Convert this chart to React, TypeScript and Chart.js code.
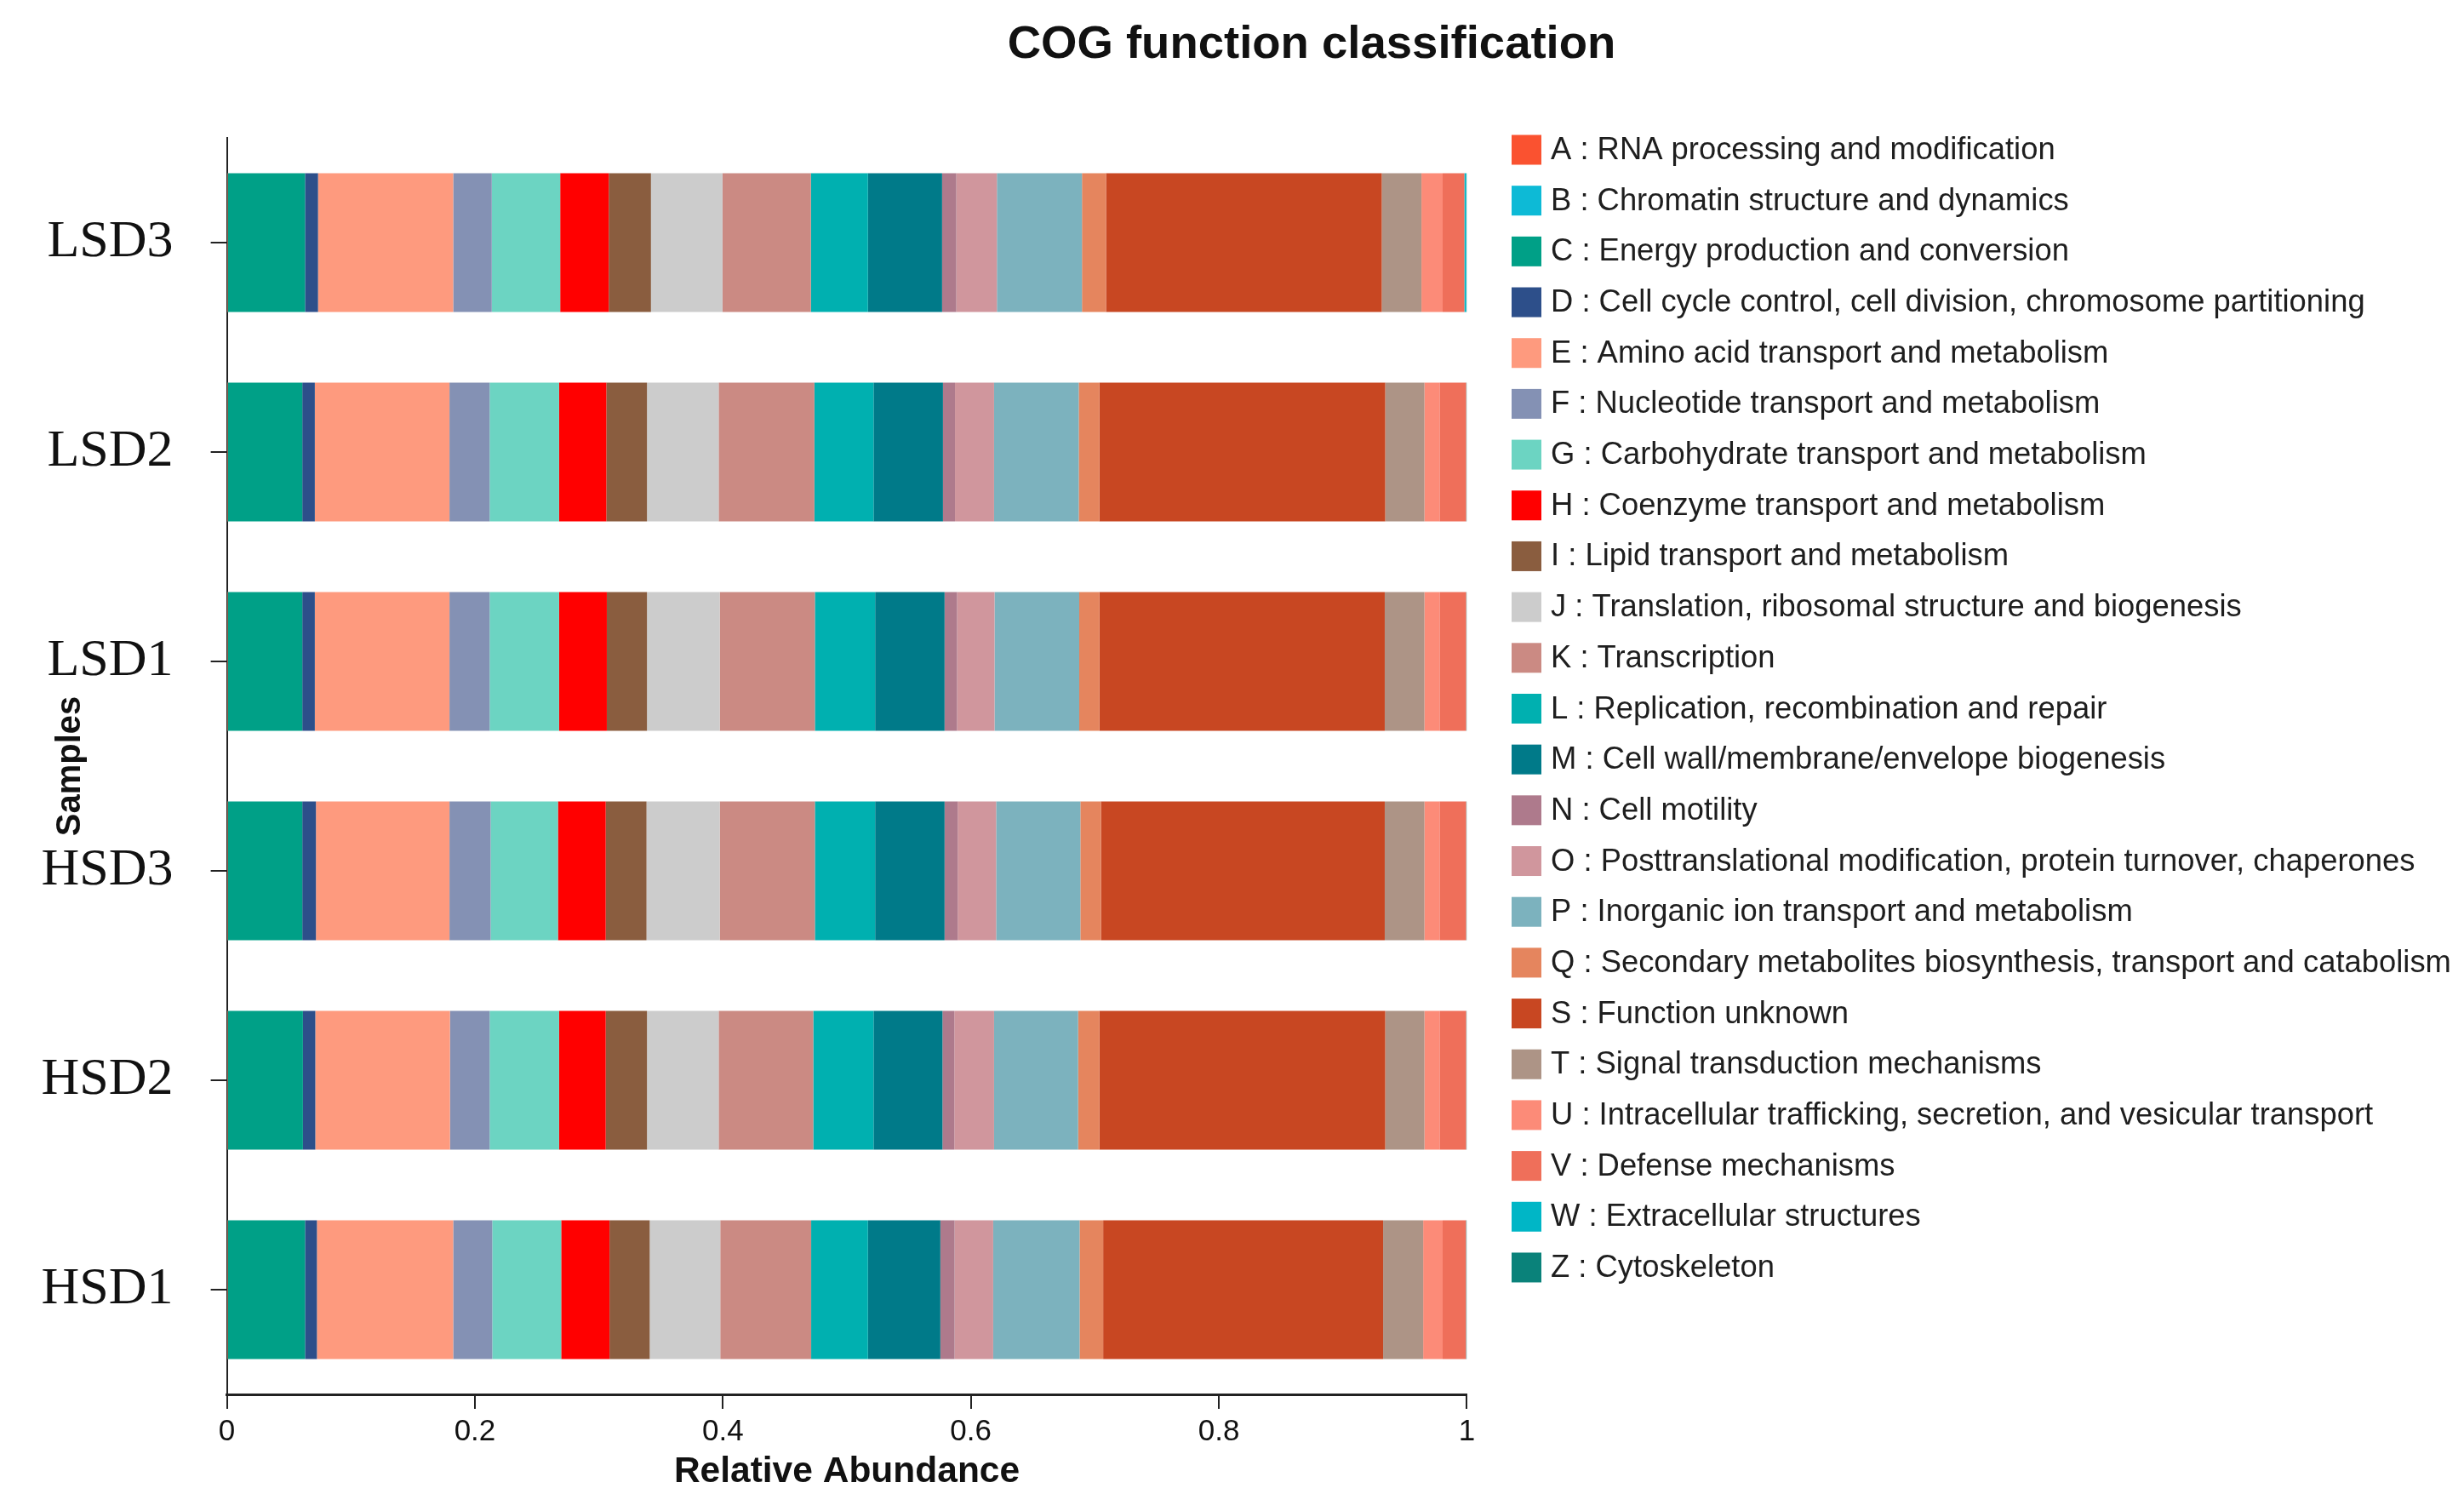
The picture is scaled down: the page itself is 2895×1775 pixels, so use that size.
import React, { useEffect, useRef } from "react";
import { Chart, registerables } from "chart.js";

Chart.register(...registerables);

// ---------- data ----------
const samples = ["LSD3", "LSD2", "LSD1", "HSD3", "HSD2", "HSD1"];

const cogCodes = ["A", "B", "C", "D", "E", "F", "G", "H", "I", "J", "K", "L", "M", "N", "O", "P", "Q", "S", "T", "U", "V", "W", "Z"];

const cogNames = [
  "RNA processing and modification",
  "Chromatin structure and dynamics",
  "Energy production and conversion",
  "Cell cycle control, cell division, chromosome partitioning",
  "Amino acid transport and metabolism",
  "Nucleotide transport and metabolism",
  "Carbohydrate transport and metabolism",
  "Coenzyme transport and metabolism",
  "Lipid transport and metabolism",
  "Translation, ribosomal structure and biogenesis",
  "Transcription",
  "Replication, recombination and repair",
  "Cell wall/membrane/envelope biogenesis",
  "Cell motility",
  "Posttranslational modification, protein turnover, chaperones",
  "Inorganic ion transport and metabolism",
  "Secondary metabolites biosynthesis, transport and catabolism",
  "Function unknown",
  "Signal transduction mechanisms",
  "Intracellular trafficking, secretion, and vesicular transport",
  "Defense mechanisms",
  "Extracellular structures",
  "Cytoskeleton",
];

const cogColors = [
  "#FA5230", "#0DBAD6", "#00A087", "#2D4F8A", "#FE9A7E", "#8491B4",
  "#6CD4C2", "#FF0000", "#8A5D3F", "#CCCCCC", "#CB8A83", "#00B0B0",
  "#007A89", "#AE7A8C", "#D0969D", "#7CB2BE", "#E5855E", "#C84722",
  "#AD9486", "#FC8B78", "#EF6F5A", "#00B6C6", "#0A827A",
];

// relative abundance per sample, in cogCodes order
const lsd3 = [0.0003, 0.0002, 0.0625, 0.0105, 0.1090, 0.0311, 0.0552, 0.0392, 0.0340, 0.0577, 0.0713, 0.0460, 0.0598, 0.0115, 0.0327, 0.0686, 0.0194, 0.2224, 0.0320, 0.0171, 0.0175, 0.0015, 0.0005];
const lsd2 = [0.0003, 0.0002, 0.0603, 0.0101, 0.1086, 0.0324, 0.0560, 0.0381, 0.0328, 0.0578, 0.0772, 0.0477, 0.0560, 0.0097, 0.0315, 0.0683, 0.0166, 0.2306, 0.0316, 0.0122, 0.0215, 0.0003, 0.0002];
const lsd1 = [0.0003, 0.0002, 0.0603, 0.0101, 0.1086, 0.0324, 0.0560, 0.0385, 0.0324, 0.0587, 0.0767, 0.0486, 0.0560, 0.0101, 0.0302, 0.0683, 0.0162, 0.2302, 0.0320, 0.0122, 0.0215, 0.0003, 0.0002];
const hsd3 = [0.0003, 0.0002, 0.0603, 0.0110, 0.1077, 0.0332, 0.0543, 0.0385, 0.0329, 0.0591, 0.0767, 0.0486, 0.0560, 0.0106, 0.0310, 0.0679, 0.0166, 0.2289, 0.0320, 0.0122, 0.0215, 0.0003, 0.0002];
const hsd2 = [0.0003, 0.0002, 0.0608, 0.0100, 0.1086, 0.0320, 0.0560, 0.0376, 0.0333, 0.0578, 0.0763, 0.0486, 0.0556, 0.0096, 0.0320, 0.0678, 0.0171, 0.2306, 0.0316, 0.0122, 0.0215, 0.0003, 0.0002];
const hsd1 = [0.0003, 0.0002, 0.0625, 0.0096, 0.1099, 0.0315, 0.0556, 0.0390, 0.0324, 0.0569, 0.0733, 0.0458, 0.0584, 0.0115, 0.0311, 0.0697, 0.0190, 0.2258, 0.0323, 0.0157, 0.0189, 0.0004, 0.0002];

const sampleValues = [lsd3, lsd2, lsd1, hsd3, hsd2, hsd1];

const xTickValues = [0, 0.2, 0.4, 0.6, 0.8, 1];

// ---------- layout / style ----------
const W = 2895;
const H = 1775;
const SANS = '"Liberation Sans", Arial, Helvetica, sans-serif';
const SERIF = '"Liberation Serif", "Times New Roman", serif';
const TITLE = "COG function classification";

const overlayPlugin = {
  id: "cogOverlay",
  afterDraw(chart: any) {
    const ctx = chart.ctx;
    ctx.save();
    // title
    ctx.fillStyle = "#111";
    ctx.font = `bold 54.5px ${SANS}`;
    ctx.textAlign = "center";
    ctx.textBaseline = "middle";
    ctx.fillText(TITLE, 1541, 53);
    // legend
    const x0 = 1776;
    const y0 = 176;
    const step = 59.68;
    const box = 35;
    chart.data.datasets.forEach((ds: any, i: number) => {
      const cy = y0 + i * step;
      ctx.fillStyle = ds.backgroundColor;
      ctx.fillRect(x0, cy - box / 2, box, box);
      ctx.fillStyle = "#1e1e1e";
      ctx.font = `36.4px ${SANS}`;
      ctx.textAlign = "left";
      ctx.textBaseline = "middle";
      ctx.fillText(ds.label, 1822, cy + 1);
    });
    ctx.restore();
  },
};

export default function App() {
  const ref = useRef<HTMLCanvasElement | null>(null);

  useEffect(() => {
    if (!ref.current) return;
    const datasets = cogCodes.map((code, ci) => ({
      label: `${code} : ${cogNames[ci]}`,
      data: sampleValues.map((row) => row[ci]),
      backgroundColor: cogColors[ci],
      borderWidth: 0,
      barPercentage: 0.663,
      categoryPercentage: 1.0,
    }));

    const chart = new Chart(ref.current, {
      type: "bar",
      data: { labels: samples, datasets },
      plugins: [overlayPlugin],
      options: {
        indexAxis: "y",
        animation: false,
        responsive: false,
        devicePixelRatio: 1,
        layout: { padding: { left: 0, top: 162, right: W - 1723.4, bottom: 0 } },
        plugins: {
          legend: { display: false },
          title: { display: false },
          tooltip: { enabled: false },
        },
        scales: {
          x: {
            type: "linear",
            stacked: true,
            min: 0,
            max: 1,
            afterBuildTicks: (scale: any) => {
              scale.ticks = xTickValues.map((v) => ({ value: v }));
            },
            afterFit: (scale: any) => {
              scale.height = 137;
            },
            ticks: {
              color: "#111",
              font: { family: SANS, size: 35 },
              padding: 6,
              callback: (v: any) => String(v),
            },
            grid: {
              drawOnChartArea: false,
              drawTicks: true,
              tickLength: 17,
              color: "#222",
              lineWidth: 2,
            },
            border: { display: true, color: "#222", width: 3 },
            title: {
              display: true,
              text: "Relative Abundance",
              color: "#111",
              font: { family: SANS, size: 42.5, weight: "bold" },
              padding: { top: 0, bottom: 20 },
            },
          },
          y: {
            type: "category",
            stacked: true,
            offset: true,
            afterFit: (scale: any) => {
              scale.width = 266.6;
            },
            ticks: {
              color: "#111",
              font: { family: SERIF, size: 62 },
              padding: 44,
            },
            grid: {
              offset: false,
              drawOnChartArea: false,
              drawTicks: true,
              tickLength: 19,
              color: "#222",
              lineWidth: 2,
            },
            border: { display: true, color: "#222", width: 2 },
            title: {
              display: true,
              text: "Samples",
              color: "#111",
              font: { family: SANS, size: 40, weight: "bold" },
              padding: { top: 59, bottom: 0 },
            },
          },
        },
      } as any,
    });
    return () => chart.destroy();
  }, []);

  return (
    <div style={{ position: "absolute", left: 0, top: 0, width: W, height: H, background: "#fff" }}>
      <canvas ref={ref} width={W} height={H} style={{ display: "block", width: W, height: H }} />
    </div>
  );
}
